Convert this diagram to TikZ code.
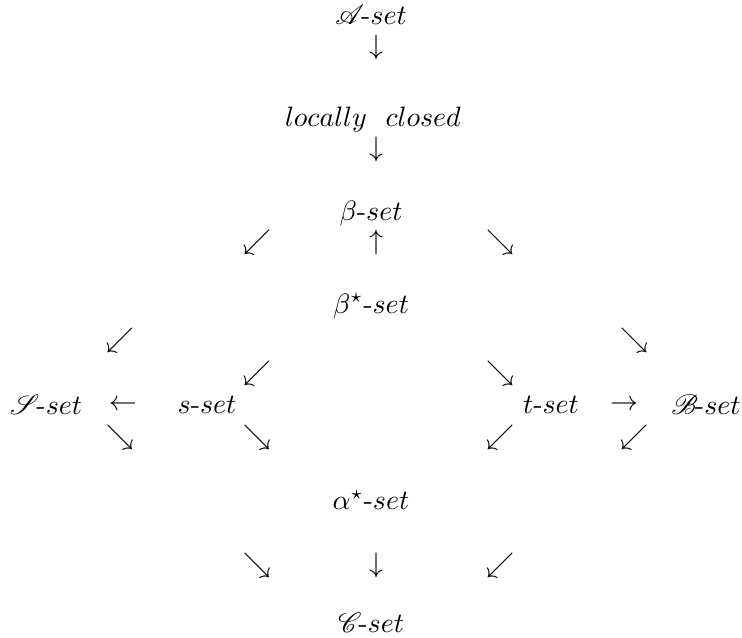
\documentclass[tikz,border=0pt]{standalone}
\usepackage{mathrsfs}
\newcommand{\scrset}[1]{$\mathscr{#1}\mkern-2mu$-$set$}
\tikzset{
  lbl/.style={inner sep=0pt, anchor=center},
  arr/.style={inner sep=0pt, anchor=center}
}
\begin{document}
\begin{tikzpicture}[x=0.357pt, y=-0.357pt]
\useasboundingbox (0,0) rectangle (742,637);
% texts
\node[lbl] (A) at (371,15) {\scrset{A}};
\node[arr] (a1) at (376,47) {$\downarrow$};
\node[lbl] (L) at (373,119) {$locally\ \ closed$};
\node[arr] (a2) at (376,149) {$\downarrow$};
\node[lbl] (B) at (371,213) {$\beta$-$set$};
\node[arr] (a3) at (257,242) {$\swarrow$};
\node[arr] (a4) at (376,242) {$\uparrow$};
\node[arr] (a5) at (500,242) {$\searrow$};
\node[lbl] (Bs) at (371,306) {$\beta^{\star}$-$set$};
\node[arr] (a6) at (120,340) {$\swarrow$};
\node[arr] (a7) at (634,340) {$\searrow$};
\node[arr] (a8) at (257,373) {$\swarrow$};
\node[arr] (a9) at (500,373) {$\searrow$};
\node[lbl] (S) at (46,405) {\scrset{S}};
\node[arr] (a10) at (123,405) {$\leftarrow$};
\node[lbl] (s) at (207,405) {$s$-$set$};
\node[lbl] (t) at (551,405) {$t$-$set$};
\node[arr] (a11) at (624,405) {$\rightarrow$};
\node[lbl] (Bc) at (706,405) {\scrset{B}};
\node[arr] (a12) at (120,437) {$\searrow$};
\node[arr] (a13) at (257,437) {$\searrow$};
\node[arr] (a14) at (500,437) {$\swarrow$};
\node[arr] (a15) at (634,437) {$\swarrow$};
\node[lbl] (Al) at (371,500) {$\alpha^{\star}$-$set$};
\node[arr] (a16) at (257,565) {$\searrow$};
\node[arr] (a17) at (376,565) {$\downarrow$};
\node[arr] (a18) at (500,565) {$\swarrow$};
\node[lbl] (C) at (371,623) {\scrset{C}};
\end{tikzpicture}
\end{document}
